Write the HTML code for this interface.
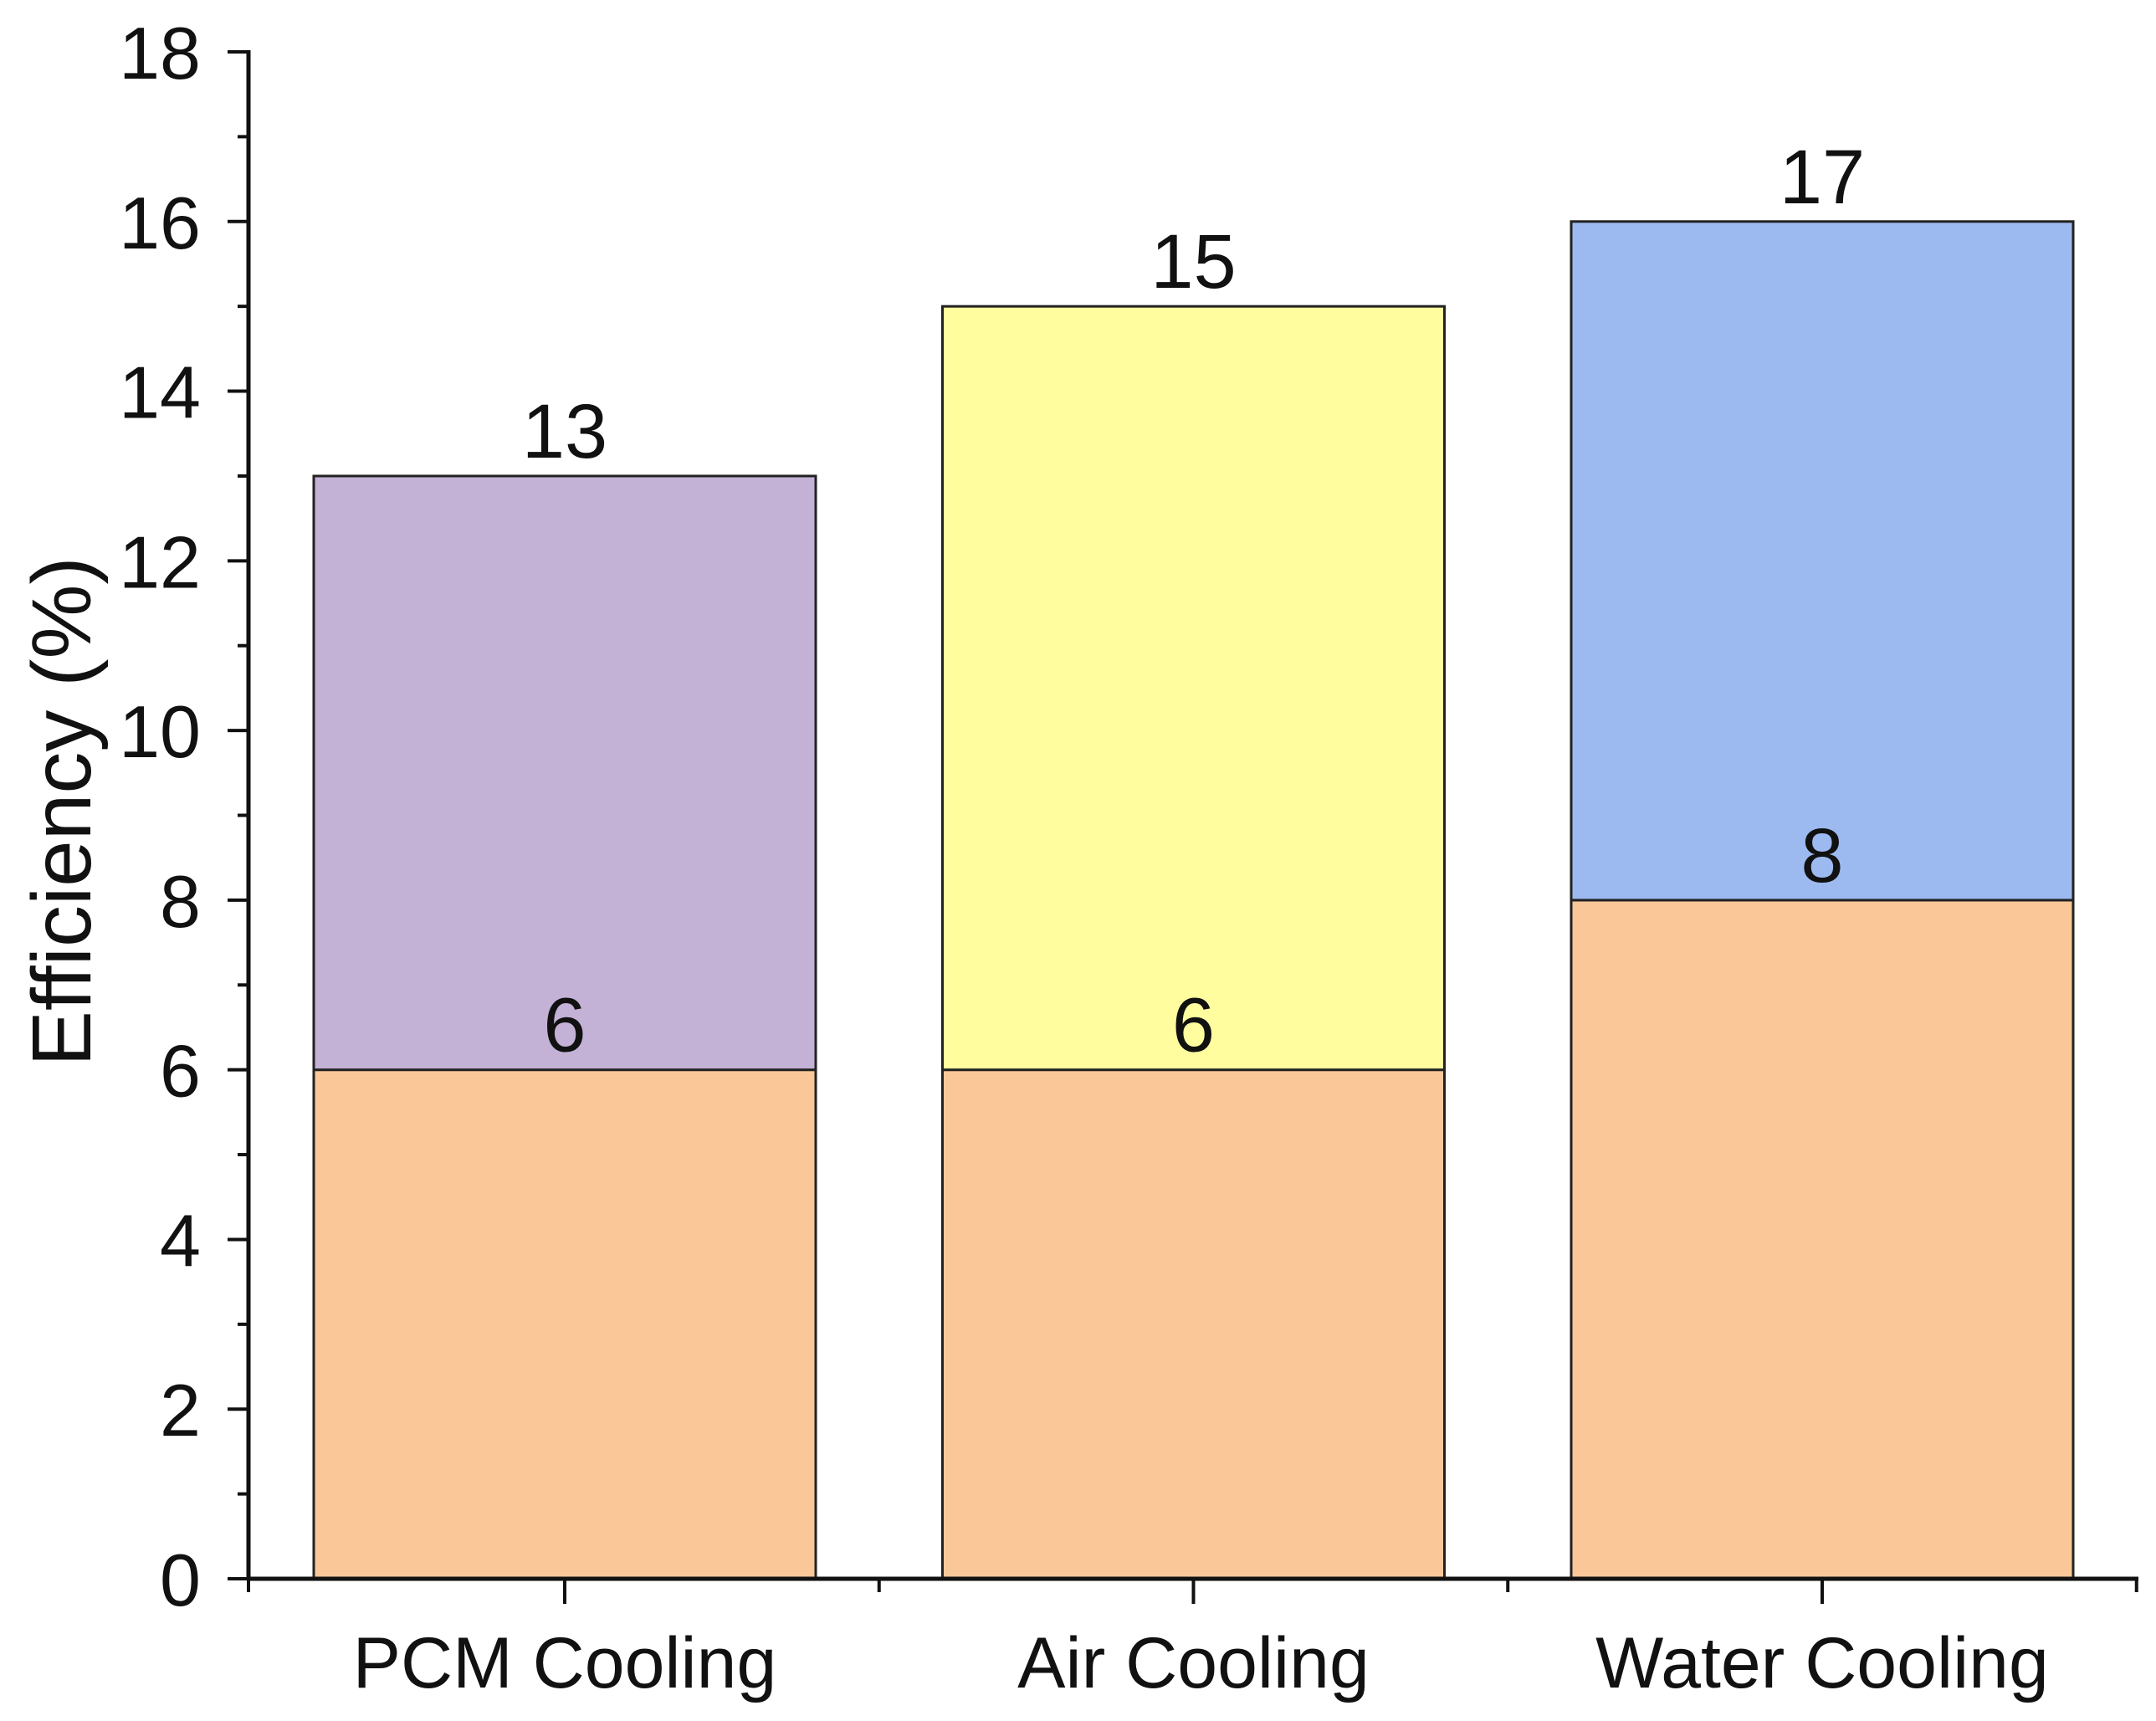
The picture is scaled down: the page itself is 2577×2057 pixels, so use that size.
<!DOCTYPE html>
<html><head><meta charset="utf-8"><style>
html,body{margin:0;padding:0;background:#fff;}
svg{display:block;font-family:"Liberation Sans",Arial,sans-serif;}
</style></head><body>
<svg id="chart" width="2577" height="2057" viewBox="0 0 2577 2057">
<g id="bars"></g>
<g id="axes"></g>
<text x="0" y="0" transform="translate(108,970) rotate(-90)" text-anchor="middle" font-size="100" fill="#111">Efficiency (%)</text>
</svg>
<script>
const categories = ["PCM Cooling", "Air Cooling", "Water Cooling"];
const baseValues = [6, 6, 8];
const totalValues = [13, 15, 16];
const baseLabels = ["6", "6", "8"];
const topLabels = ["13", "15", "17"];
const topColors = ["#C3B1D6", "#FFFD9E", "#9DBAF0"];
const yTicks = [0, 2, 4, 6, 8, 10, 12, 14, 16, 18];

const NS = "http://www.w3.org/2000/svg";
const x0 = 297, xEnd = 2556, yBase = 1887, yTop = 62, yMax = 18;
const firstCenter = 675, step = 751.5, barW = 600;
function y(v){ return yBase - (yBase - yTop) * v / yMax; }
function xc(i){ return firstCenter + step * i; }
function mk(tag, attrs, parent){
  const e = document.createElementNS(NS, tag);
  for (const k in attrs) e.setAttribute(k, attrs[k]);
  parent.appendChild(e); return e;
}
const bars = document.getElementById("bars");
const axes = document.getElementById("axes");
categories.forEach((c, i) => {
  const cx = xc(i);
  const r1 = mk("rect", {x: cx - barW/2, y: y(baseValues[i]), width: barW, height: y(0) - y(baseValues[i]), fill: "#FAC898", stroke: "#222", "stroke-width": 3}, bars);
  
  
  const r2 = mk("rect", {x: cx - barW/2, y: y(totalValues[i]), width: barW, height: y(baseValues[i]) - y(totalValues[i]), fill: topColors[i], stroke: "#222", "stroke-width": 3}, bars);
  
  
  const t1 = mk("text", {x: cx, y: y(baseValues[i]) - 22, "text-anchor": "middle", "font-size": 92, fill: "#111"}, bars);
  t1.textContent = baseLabels[i];
  
  
  const t2 = mk("text", {x: cx, y: y(totalValues[i]) - 22, "text-anchor": "middle", "font-size": 92, fill: "#111"}, bars);
  t2.textContent = topLabels[i];
  
  
  const xt = mk("line", {x1: cx, x2: cx, y1: yBase, y2: yBase + 30, stroke: "#111", "stroke-width": 4}, axes);
  
  
  const xl = mk("text", {x: cx, y: 2017, "text-anchor": "middle", "font-size": 86, fill: "#111"}, axes);
  xl.textContent = c;
  
  
  const mx = cx + step/2;
  const mt = mk("line", {x1: mx, x2: mx, y1: yBase, y2: yBase + 16, stroke: "#111", "stroke-width": 4}, axes);
  
  
});
const m0 = mk("line", {x1: x0, x2: x0, y1: yBase, y2: yBase + 16, stroke: "#111", "stroke-width": 4}, axes);


yTicks.forEach((v, i) => {
  const t = mk("line", {x1: x0 - 25, x2: x0, y1: y(v), y2: y(v), stroke: "#111", "stroke-width": 4}, axes);
  
  
  const l = mk("text", {x: 240, y: y(v) + 32, "text-anchor": "end", "font-size": 88, fill: "#111"}, axes);
  l.textContent = v;
  
  
  if (i < yTicks.length - 1) {
    const mv = (v + yTicks[i+1]) / 2;
    const m = mk("line", {x1: x0 - 13, x2: x0, y1: y(mv), y2: y(mv), stroke: "#111", "stroke-width": 4}, axes);
    
    
  }
});
const ya = mk("line", {x1: x0, x2: x0, y1: yTop - 2, y2: yBase + 2, stroke: "#111", "stroke-width": 5}, axes);


const xa = mk("line", {x1: x0 - 2, x2: xEnd, y1: yBase, y2: yBase, stroke: "#111", "stroke-width": 5}, axes);


</script>
</body></html>
